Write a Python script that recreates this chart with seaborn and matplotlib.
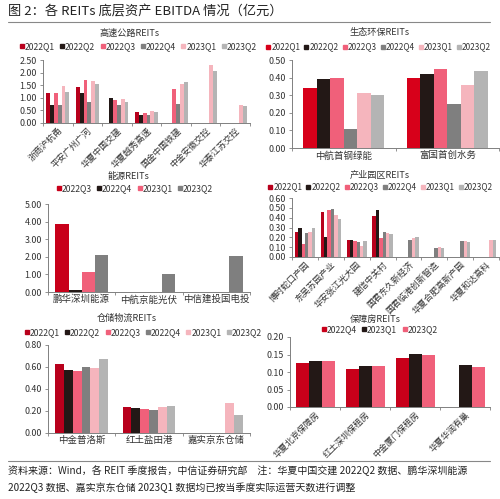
import matplotlib
matplotlib.use("Agg")
import matplotlib.pyplot as plt
import seaborn as sns
import pandas as pd
import numpy as np
from matplotlib.ticker import FormatStrFormatter, FixedLocator

sns.set_style("white")
plt.rcParams['font.family'] = ['Noto Sans CJK SC', 'DejaVu Sans']
plt.rcParams['axes.unicode_minus'] = False

nan = np.nan
Q6 = ["2022Q1", "2022Q2", "2022Q3", "2022Q4", "2023Q1", "2023Q2"]

hw_cats = ["浙商沪杭甬", "平安广州广河", "华夏中国交建", "华夏越秀高速", "国金中国铁建", "中金安徽交控", "华泰江苏交控"]
hw_vals = {
    "2022Q1": [1.18, 1.42, nan, 0.42, nan, nan, nan],
    "2022Q2": [0.72, 1.18, 0.98, 0.33, nan, nan, nan],
    "2022Q3": [1.20, 1.72, 0.92, 0.40, 1.33, nan, nan],
    "2022Q4": [0.70, 0.84, 0.72, 0.30, 0.77, nan, nan],
    "2023Q1": [1.47, 1.67, 0.96, 0.48, 1.55, 2.32, 0.70],
    "2023Q2": [1.22, 1.55, 0.83, 0.42, 1.62, 2.05, 0.68],
}

eco_cats = ["中航首钢绿能", "富国首创水务"]
eco_vals = {
    "2022Q1": [0.34, 0.40],
    "2022Q2": [0.39, 0.42],
    "2022Q3": [0.40, 0.45],
    "2022Q4": [0.11, 0.25],
    "2023Q1": [0.31, 0.36],
    "2023Q2": [0.30, 0.44],
}

en_series = ["2022Q3", "2022Q4", "2023Q1", "2023Q2"]
en_cats = ["鹏华深圳能源", "中航京能光伏", "中信建投国电投"]
en_vals = {
    "2022Q3": [3.88, nan, nan],
    "2022Q4": [0.10, nan, nan],
    "2023Q1": [1.12, nan, nan],
    "2023Q2": [2.08, 1.00, 2.05],
}

ip_cats = ["博时蛇口产园", "东吴苏园产业", "华安张江光大园", "建信中关村", "国君东久新经济", "国君临港创新智造", "华夏合肥高新产园", "华夏和达高科"]
ip_vals = {
    "2022Q1": [0.25, 0.46, 0.17, 0.42, nan, nan, nan, nan],
    "2022Q2": [0.29, 0.20, 0.17, 0.48, nan, nan, nan, nan],
    "2022Q3": [0.13, 0.48, 0.16, 0.19, nan, nan, nan, nan],
    "2022Q4": [0.24, 0.49, 0.15, 0.25, 0.17, 0.09, 0.16, nan],
    "2023Q1": [0.25, 0.43, 0.11, 0.24, 0.19, 0.10, 0.16, 0.17],
    "2023Q2": [0.29, 0.39, 0.16, 0.23, 0.20, 0.09, 0.155, 0.17],
}

wh_cats = ["中金普洛斯", "红土盐田港", "嘉实京东仓储"]
wh_vals = {
    "2022Q1": [0.63, 0.24, nan],
    "2022Q2": [0.57, 0.23, nan],
    "2022Q3": [0.56, 0.22, nan],
    "2022Q4": [0.60, 0.21, nan],
    "2023Q1": [0.59, 0.24, 0.27],
    "2023Q2": [0.67, 0.245, 0.16],
}

hs_series = ["2022Q4", "2023Q1", "2023Q2"]
hs_cats = ["华夏北京保障房", "红土深圳保租房", "中金厦门保租房", "华夏华润有巢"]
hs_vals = {
    "2022Q4": [0.127, 0.110, 0.141, nan],
    "2023Q1": [0.131, 0.116, 0.151, 0.121],
    "2023Q2": [0.131, 0.118, 0.149, 0.114],
}

pal6 = ["#B8001C", "#231816", "#F0607A", "#7F7F7F", "#F5B5BD", "#B4B4B4"]
pal_eco = ["#D7001A", "#231816", "#F0607A", "#7F7F7F", "#F5B5BD", "#B4B4B4"]
pal4 = ["#C8001A", "#231816", "#F0607A", "#7F7F7F"]
pal3 = ["#C8001A", "#231816", "#F0607A"]

fig = plt.figure(figsize=(5.0, 4.99), dpi=100)

def H(px):
    return 1 - px / 499.0

def W(px):
    return px / 500.0

def panel(x0, x1, ytop, ybot, title, cats, series, vals, colors, ylim, step, rot,
          title_x, title_y, leg_x, leg_y, lab_fs=6.3, leg_fs=6.2, leg_cs=0.55):
    ax = fig.add_axes([W(x0), H(ybot), W(x1) - W(x0), H(ytop) - H(ybot)])
    rows = []
    for s in series:
        for c, v in zip(cats, vals[s]):
            rows.append({"cat": c, "series": s, "val": v})
    df = pd.DataFrame(rows)
    sns.barplot(data=df, x="cat", y="val", hue="series", hue_order=series, order=cats,
                palette=dict(zip(series, colors)), width=0.78, ax=ax, legend=False,
                saturation=1, linewidth=0)
    ax.set_xlabel("")
    ax.set_ylabel("")
    ax.set_ylim(*ylim)
    ax.set_xlim(-0.5, len(cats) - 0.5)
    ax.yaxis.set_major_locator(FixedLocator(np.arange(ylim[0], ylim[1] + step / 2, step)))
    ax.yaxis.set_major_formatter(FormatStrFormatter("%.2f"))
    for sp in ["top", "right"]:
        ax.spines[sp].set_visible(False)
    for sp in ["left", "bottom"]:
        ax.spines[sp].set_color("#808080")
        ax.spines[sp].set_linewidth(0.7)
    ax.tick_params(axis="y", labelsize=6.4, length=2.5, width=0.6, color="#808080", pad=2,
                   direction="out", left=True, labelcolor="#333333")
    ax.tick_params(axis="x", which="major", length=0, labelsize=lab_fs, pad=2, labelcolor="#333333")
    ax.set_xticks(np.arange(len(cats) + 1) - 0.5, minor=True)
    ax.tick_params(axis="x", which="minor", length=2.5, width=0.6, color="#808080", bottom=True)
    if rot:
        for lab in ax.get_xticklabels():
            lab.set_rotation(45)
            lab.set_ha("right")
            lab.set_rotation_mode("anchor")
    fig.text(W(title_x), H(title_y), title, ha="center", va="center", fontsize=6.6, color="#333333")
    handles = [plt.Line2D([], [], marker="s", linestyle="", markersize=3.3, color=c) for c in colors]
    fig.legend(handles, series, loc="center left", bbox_to_anchor=(W(leg_x), H(leg_y)), ncol=len(series),
               frameon=False, fontsize=leg_fs, handletextpad=0.05, columnspacing=leg_cs, handlelength=0.6,
               borderaxespad=0, borderpad=0, labelcolor="#333333")
    return ax

panel(43, 250, 60, 123, "高速公路REITs", hw_cats, Q6, hw_vals, pal6, (0, 2.5), 0.5, True,
      130, 33, 19, 47)
panel(292, 499, 60, 148, "生态环保REITs", eco_cats, Q6, eco_vals, pal_eco, (0, 0.5), 0.1, False,
      380, 32, 266, 47, lab_fs=6.8, leg_fs=5.9, leg_cs=0.45)
panel(48, 250, 204, 292, "能源REITs", en_cats, en_series, en_vals, pal4, (0, 5.0), 1.0, False,
      128, 176, 56, 189, lab_fs=6.8)
panel(292, 499, 198, 257, "产业园区REITs", ip_cats, Q6, ip_vals, pal6, (0, 0.6), 0.1, True,
      380, 175, 268, 187, leg_fs=5.9, leg_cs=0.45)
panel(48, 250, 345, 433, "仓储物流REITs", wh_cats, Q6, wh_vals, pal6, (0, 0.8), 0.2, False,
      127, 318, 24, 333, lab_fs=6.8)
panel(290, 490, 337, 407, "保障房REITs", hs_cats, hs_series, hs_vals, pal3, (0, 0.2), 0.05, True,
      375, 319, 321, 330)

# header
fig.text(0.016, H(12), "图 2：各 REITs 底层资产 EBITDA 情况（亿元）", ha="left", va="center",
         fontsize=9.5, color="#222222")
fig.add_artist(plt.Line2D([0.016, 0.98], [H(22), H(22)], color="#888888", linewidth=0.8))
fig.add_artist(plt.Line2D([0.016, 0.98], [H(461), H(461)], color="#888888", linewidth=0.8))
fig.text(0.016, H(471), "资料来源：Wind，各 REIT 季度报告，中信证券研究部　注：华夏中国交建 2022Q2 数据、鹏华深圳能源",
         ha="left", va="center", fontsize=7.2, color="#222222")
fig.text(0.016, H(488), "2022Q3 数据、嘉实京东仓储 2023Q1 数据均已按当季度实际运营天数进行调整",
         ha="left", va="center", fontsize=7.2, color="#222222")

fig.savefig("out.png", dpi=100, facecolor="white")
